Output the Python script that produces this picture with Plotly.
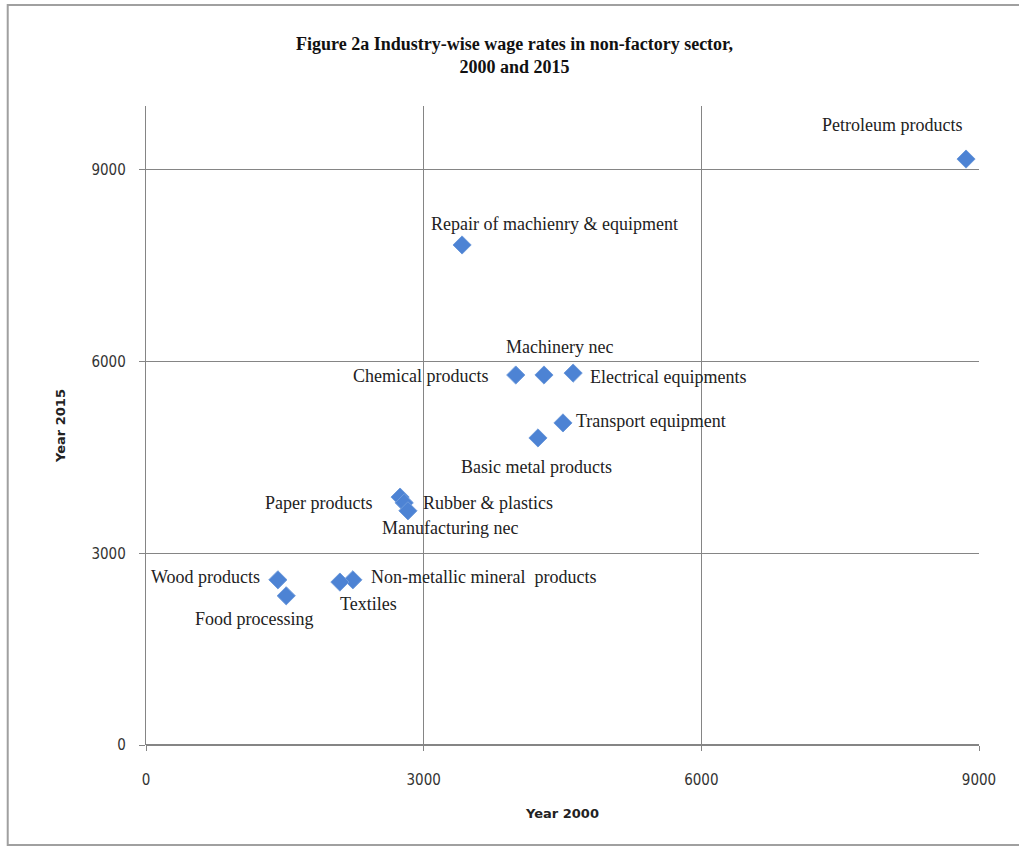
import plotly.graph_objects as go

industries = ["Petroleum products", "Repair of machienry & equipment", "Machinery nec",
              "Chemical products", "Electrical equipments", "Transport equipment",
              "Basic metal products", "Paper products", "Rubber & plastics",
              "Manufacturing nec", "Wood products", "Non-metallic mineral  products",
              "Textiles", "Food processing"]
wage_2000 = [8860, 3415, 4300, 3995, 4615, 4505, 4235, 2745, 2790, 2830, 1425, 2235, 2095, 1515]
wage_2015 = [9170, 7825, 5790, 5790, 5820, 5040, 4805, 3880, 3790, 3665, 2585, 2585, 2550, 2335]

x_ticks = [0, 3000, 6000, 9000]
y_ticks = [0, 3000, 6000, 9000]

# label placement (pixel offsets from marker, anchor)
label_pos = {
    "Petroleum products": (-74, 34, "center"),
    "Repair of machienry & equipment": (92, 21, "center"),
    "Machinery nec": (16, 28, "center"),
    "Chemical products": (-26, -1, "right"),
    "Electrical equipments": (15, -4, "left"),
    "Transport equipment": (11, 2, "left"),
    "Basic metal products": (-1, -29, "center"),
    "Paper products": (-26, -6, "right"),
    "Rubber & plastics": (17, 0, "left"),
    "Manufacturing nec": (42, -17, "center"),
    "Wood products": (-16, 3, "right"),
    "Non-metallic mineral  products": (16, 3, "left"),
    "Textiles": (29, -22, "center"),
    "Food processing": (-32, -23, "center"),
}

fig = go.Figure()
fig.add_trace(go.Scatter(
    x=wage_2000, y=wage_2015, mode="markers",
    marker=dict(symbol="diamond", size=14, color="#4D83D4",
                line=dict(color="#6F9BDB", width=1)),
    hoverinfo="text", text=industries, showlegend=False,
))

annotations = []
for name, xv, yv in zip(industries, wage_2000, wage_2015):
    dx, dy, anc = label_pos[name]
    annotations.append(dict(
        x=xv, y=yv, xref="x", yref="y", text=name.replace("  ", "&nbsp; "),
        showarrow=False, xshift=dx, yshift=dy, xanchor=anc, yanchor="middle",
        font=dict(family="Liberation Serif, Times New Roman, serif", size=18, color="#222222"),
    ))

annotations.append(dict(
    x=0.5, y=0.0, xref="paper", yref="paper", xshift=-48, yshift=690,
    text="<b>Figure 2a Industry-wise wage rates in non-factory sector,</b><br><b>2000 and 2015</b>",
    showarrow=False, xanchor="center", yanchor="middle", align="center",
    font=dict(family="Liberation Serif, Times New Roman, serif", size=18, color="#111111"),
))

fig.update_layout(
    width=1019, height=847,
    margin=dict(l=146, r=40, t=106, b=102),
    paper_bgcolor="white", plot_bgcolor="white",
    annotations=annotations,
    font=dict(family="DejaVu Sans Condensed, Liberation Sans Narrow, Arial Narrow, sans-serif", size=15, color="#333333"),
    xaxis=dict(
        range=[0, 9000], tickvals=x_ticks, ticktext=[str(v) for v in x_ticks],
        showgrid=True, gridcolor="#858585", gridwidth=1.4,
        zeroline=False, showline=False, ticks="outside", ticklen=5, tickcolor="#858585",
        ticklabelstandoff=16,
        title=dict(text="<b>Year 2000</b>", standoff=20,
                   font=dict(family="DejaVu Sans, Arial, sans-serif", size=13, color="#222222")),
        fixedrange=True,
    ),
    yaxis=dict(
        range=[0, 10000], tickvals=y_ticks, ticktext=[str(v) for v in y_ticks],
        showgrid=True, gridcolor="#858585", gridwidth=1.4,
        zeroline=True, zerolinecolor="#858585", zerolinewidth=2,
        showline=True, linecolor="#858585", linewidth=1.4,
        ticks="outside", ticklen=6, tickcolor="#858585",
        ticklabelstandoff=10,
        title=dict(text="<b>Year 2015</b>", standoff=22,
                   font=dict(family="DejaVu Sans, Arial, sans-serif", size=13, color="#222222")),
        fixedrange=True,
    ),
    shapes=[dict(type="rect", xref="paper", yref="paper",
                 x0=-0.166, x1=1.06, y0=-0.1565, y1=1.158,
                 line=dict(color="#a0a0a0", width=2), fillcolor="rgba(0,0,0,0)", layer="below")],
)

fig.write_html("out.html")
